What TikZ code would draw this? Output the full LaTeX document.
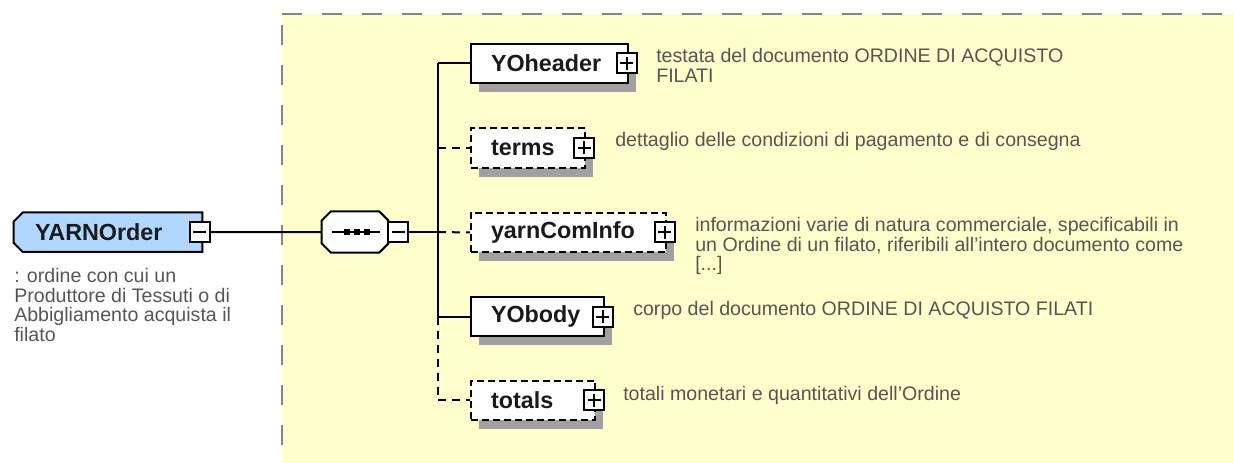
\documentclass[tikz,border=0pt]{standalone}
\usepackage{fontspec}
\setmainfont{Liberation Sans}
\usetikzlibrary{shadows,calc,backgrounds}
\definecolor{bgyellow}{HTML}{FFFFCC}
\definecolor{bordergray}{HTML}{858585}
\definecolor{shgray}{HTML}{A0A0A0}
\definecolor{elblue}{HTML}{B0D8FF}
\definecolor{desc}{HTML}{555555}
\definecolor{lbl}{HTML}{1A1A1A}
\begin{document}
\begin{tikzpicture}[x=0.75pt,y=-0.75pt,
  elbox/.style={draw=black, line width=1.5pt, fill=white, anchor=west, inner xsep=15pt, inner ysep=0pt,
    minimum height=29.6pt, align=left, font=\bfseries\fontsize{17.5}{17.5}\selectfont, text=lbl,
    general shadow={shadow xshift=6pt, shadow yshift=-6.75pt, fill=shgray}},
  optbox/.style={elbox, dash pattern=on 5.25pt off 3pt},
  pm/.style={draw=black, line width=1.5pt, fill=white, minimum size=15pt, inner sep=0pt},
  plusbox/.style={pm, path picture={\draw[line width=1.5pt]
      ([xshift=-5pt]path picture bounding box.center) -- ([xshift=5pt]path picture bounding box.center)
      ([yshift=-5pt]path picture bounding box.center) -- ([yshift=5pt]path picture bounding box.center);}},
  minusbox/.style={pm, path picture={\draw[line width=1.5pt]
      ([xshift=-5pt]path picture bounding box.center) -- ([xshift=5pt]path picture bounding box.center);}},
  desctext/.style={anchor=north west, inner sep=0pt, align=left, text=desc, font=\fontsize{14.7}{14.6}\selectfont},
  conn/.style={line width=1.5pt, draw=black},
  optconn/.style={conn, dash pattern=on 6pt off 4.5pt},
]
\useasboundingbox (0,0) rectangle (1234,463);

% root element and compositor (outlines drawn on background layer)
\node[minimum width=141pt, minimum height=29.25pt, inner xsep=15.75pt, inner ysep=0pt, text width=109.5pt,
      align=left, font=\bfseries\fontsize{17.5}{17.5}\selectfont, text=lbl] (yarn) at (108,232.2) {YARNOrder};
\node[minusbox] (yarnm) at ([xshift=-2pt]yarn.east) {};
\node[minimum width=49.5pt, minimum height=30.45pt, inner sep=0pt] (seq) at (355,232) {};
\node[minusbox] (seqm) at ([xshift=7.5pt]seq.east) {};
\coordinate (trunk) at (438,232);

\begin{pgfonlayer}{background}
  \fill[bgyellow] (282,14) rectangle (1234,463);
  \draw[bordergray, line width=2pt, dash pattern=on 15pt off 15pt] (282,14) -- (1234,14);
  \draw[bordergray, line width=2pt, dash pattern=on 15pt off 15pt, dash phase=21.75pt] (282,14) -- (282,463);
  % YARNOrder shape
  \begin{scope}[shift={(8,9)}]
    \fill[shgray] ($(yarn.north west)+(9,0)$) -- (yarn.north east) -- (yarn.south east) -- ($(yarn.south west)+(9,0)$)
      -- ($(yarn.south west)+(0,-9)$) -- ($(yarn.north west)+(0,9)$) -- cycle;
  \end{scope}
  \draw[fill=elblue, line width=1.5pt] ($(yarn.north west)+(9,0)$) -- (yarn.north east) -- (yarn.south east)
      -- ($(yarn.south west)+(9,0)$) -- ($(yarn.south west)+(0,-9)$) -- ($(yarn.north west)+(0,9)$) -- cycle;
  % sequence octagon
  \begin{scope}[shift={(8,9)}]
    \fill[shgray] ($(seq.north west)+(9,0)$) -- ($(seq.north east)+(-9,0)$) -- ($(seq.north east)+(0,9)$)
      -- ($(seq.south east)+(0,-9)$) -- ($(seq.south east)+(-9,0)$) -- ($(seq.south west)+(9,0)$)
      -- ($(seq.south west)+(0,-9)$) -- ($(seq.north west)+(0,9)$) -- cycle;
  \end{scope}
  \draw[fill=white, line width=1.5pt] ($(seq.north west)+(9,0)$) -- ($(seq.north east)+(-9,0)$) -- ($(seq.north east)+(0,9)$)
      -- ($(seq.south east)+(0,-9)$) -- ($(seq.south east)+(-9,0)$) -- ($(seq.south west)+(9,0)$)
      -- ($(seq.south west)+(0,-9)$) -- ($(seq.north west)+(0,9)$) -- cycle;
\end{pgfonlayer}

% sequence symbol
\draw[line width=1.5pt] ($(seq.center)+(-23,0)$) -- ($(seq.center)+(25,0)$);
\foreach \dx in {-8.5,1.5,11.5}
  \fill[black] ($(seq.center)+(\dx-3,-3)$) rectangle ($(seq.center)+(\dx+3,3)$);

% child elements
\node[elbox, text width=87.75pt] (hdr) at (470,63.5) {YOheader};
\node[plusbox] (hdrp) at ([xshift=-1.8pt]hdr.east) {};
\node[optbox, text width=55.7pt] (terms) at (470,147.8) {terms};
\node[plusbox] (termsp) at ([xshift=-1.5pt]terms.east) {};
\node[optbox, text width=116.25pt] (info) at (470,232.5) {yarnComInfo};
\node[plusbox] (infop) at ([xshift=-1.8pt]info.east) {};
\node[elbox, text width=69.5pt] (body) at (470,316.7) {YObody};
\node[plusbox] (bodyp) at ([xshift=-1.5pt]body.east) {};
\node[optbox, text width=63.2pt] (tot) at (470,400.3) {totals};
\node[plusbox] (totp) at ([xshift=-1.5pt]tot.east) {};

% connectors
\draw[conn] (yarnm.east) -- (seq.west);
\draw[conn] (seqm.east) -- (trunk);
\draw[optconn] (trunk) -- (info.west);
\draw[conn] (trunk |- hdr.west) -- (hdr.west);
\draw[conn] (trunk |- hdr.west) -- (trunk |- body.west) -- (body.west);
\draw[optconn] (trunk |- terms.west) -- (terms.west);
\draw[optconn] (trunk |- body.west) -- (trunk |- tot.west) -- (tot.west);

% descriptions
\node[desctext] (yarnd) at (14,268.4) {: ordine con cui un\\Produttore di Tessuti o di\\Abbigliamento acquista il\\filato};
\node[desctext] (hdrd) at (656,48.4) {testata del documento ORDINE DI ACQUISTO\\FILATI};
\node[desctext] (termsd) at (615,132.4) {dettaglio delle condizioni di pagamento e di consegna};
\node[desctext] (infod) at (695,217.4) {informazioni varie di natura commerciale, specificabili in\\un Ordine di un filato, riferibili all'intero documento come\\{[...]}};
\node[desctext] (bodyd) at (633,301.4) {corpo del documento ORDINE DI ACQUISTO FILATI};
\node[desctext] (totd) at (623,385.7) {totali monetari e quantitativi dell'Ordine};
\end{tikzpicture}
\end{document}
